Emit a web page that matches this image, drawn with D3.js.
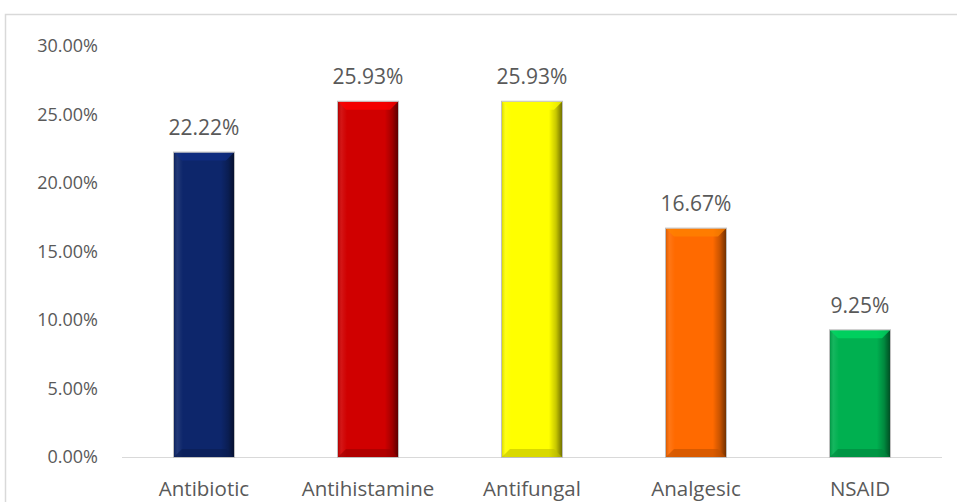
<!DOCTYPE html>
<html>
<head>
<meta charset="utf-8">
<script src="https://cdn.jsdelivr.net/npm/d3@7"></script>
<style>
  html, body { margin: 0; padding: 0; background: #fff; }
  svg { display: block; font-family: "Open Sans", "Noto Sans", "DejaVu Sans", sans-serif; }
</style>
</head>
<body>
<svg id="chart" width="957" height="502"></svg>
<script>
const categories = ["Antibiotic", "Antihistamine", "Antifungal", "Analgesic", "NSAID"];
const values = [22.22, 25.93, 25.93, 16.67, 9.25];
const barColors = ["#0d266b", "#d00000", "#ffff00", "#ff6a00", "#00b050"];
const yTicks = [0, 5, 10, 15, 20, 25, 30];

const svg = d3.select("#chart");
const W = 957, H = 502;

// chart area frame
svg.append("rect")
  .attr("x", 5.5).attr("y", 14.5)
  .attr("width", W + 10).attr("height", H + 10)
  .attr("fill", "none").attr("stroke", "#d9d9d9").attr("stroke-width", 1.5);

const plot = { left: 122, right: 942, top: 46, bottom: 457 };

const x = d3.scaleBand()
  .domain(categories)
  .range([plot.left, plot.right])
  .paddingInner(0.634)
  .paddingOuter(0.317);

const y = d3.scaleLinear()
  .domain([0, 30])
  .range([plot.bottom, plot.top]);

// gradients for bevelled bars
const defs = svg.append("defs");
const side = defs.append("linearGradient").attr("id", "sideShade")
  .attr("x1", "0").attr("x2", "1").attr("y1", "0").attr("y2", "0");
side.append("stop").attr("offset", "0").attr("stop-color", "#000").attr("stop-opacity", 0.15);
side.append("stop").attr("offset", "0.06").attr("stop-color", "#fff").attr("stop-opacity", 0.08);
side.append("stop").attr("offset", "0.15").attr("stop-color", "#fff").attr("stop-opacity", 0);
side.append("stop").attr("offset", "0.78").attr("stop-color", "#000").attr("stop-opacity", 0);
side.append("stop").attr("offset", "0.9").attr("stop-color", "#000").attr("stop-opacity", 0.22);
side.append("stop").attr("offset", "1").attr("stop-color", "#000").attr("stop-opacity", 0.55);

// baseline
svg.append("line")
  .attr("x1", plot.left).attr("x2", plot.right)
  .attr("y1", y(0) + 0.5).attr("y2", y(0) + 0.5)
  .attr("stroke", "#d9d9d9").attr("stroke-width", 1);

// y axis labels
svg.append("g")
  .selectAll("text")
  .data(yTicks)
  .join("text")
  .attr("x", 98)
  .attr("y", d => y(d))
  .attr("dy", "0.35em")
  .attr("text-anchor", "end")
  .attr("font-size", 18)
  .attr("fill", "#595959")
  .text(d => d.toFixed(2) + "%");

// x axis labels
svg.append("g")
  .selectAll("text")
  .data(categories)
  .join("text")
  .attr("x", d => x(d) + x.bandwidth() / 2)
  .attr("y", 489)
  .attr("dy", "0.35em")
  .attr("text-anchor", "middle")
  .attr("font-size", 20.5)
  .attr("fill", "#595959")
  .text(d => d);

const bw = x.bandwidth();
const bev = 8;

const bars = svg.append("g")
  .selectAll("g")
  .data(categories.map((c, i) => ({ c, v: values[i], col: barColors[i] })))
  .join("g");

bars.append("rect")
  .attr("x", d => x(d.c))
  .attr("y", d => y(d.v))
  .attr("width", bw)
  .attr("height", d => y(0) - y(d.v))
  .attr("fill", d => d.col);

bars.append("rect")
  .attr("x", d => x(d.c))
  .attr("y", d => y(d.v))
  .attr("width", bw)
  .attr("height", d => y(0) - y(d.v))
  .attr("fill", "url(#sideShade)");

// top bevel (light)
bars.append("path")
  .attr("d", d => {
    const x0 = x(d.c), y0 = y(d.v);
    return `M${x0},${y0} L${x0 + bw},${y0} L${x0 + bw - bev},${y0 + bev} L${x0 + bev},${y0 + bev} Z`;
  })
  .attr("fill", d => d3.color(d.col).brighter(0.6))
  .attr("opacity", 0.75);

// bottom bevel (dark)
bars.append("path")
  .attr("d", d => {
    const x0 = x(d.c), y1 = y(0);
    return `M${x0},${y1} L${x0 + bw},${y1} L${x0 + bw - bev},${y1 - bev} L${x0 + bev},${y1 - bev} Z`;
  })
  .attr("fill", d => d3.color(d.col).darker(0.8))
  .attr("opacity", 0.6);

// outline
bars.append("rect")
  .attr("x", d => x(d.c) - 0.5)
  .attr("y", d => y(d.v) - 0.5)
  .attr("width", bw + 1)
  .attr("height", d => y(0) - y(d.v) + 1)
  .attr("fill", "none")
  .attr("stroke", "#bfbfbf")
  .attr("stroke-width", 1);

// value labels
bars.append("text")
  .attr("x", d => x(d.c) + bw / 2)
  .attr("y", d => y(d.v) - 25)
  .attr("dy", "0.35em")
  .attr("text-anchor", "middle")
  .attr("font-size", 21)
  .attr("fill", "#595959")
  .text(d => d.v.toFixed(2) + "%");
</script>
</body>
</html>
